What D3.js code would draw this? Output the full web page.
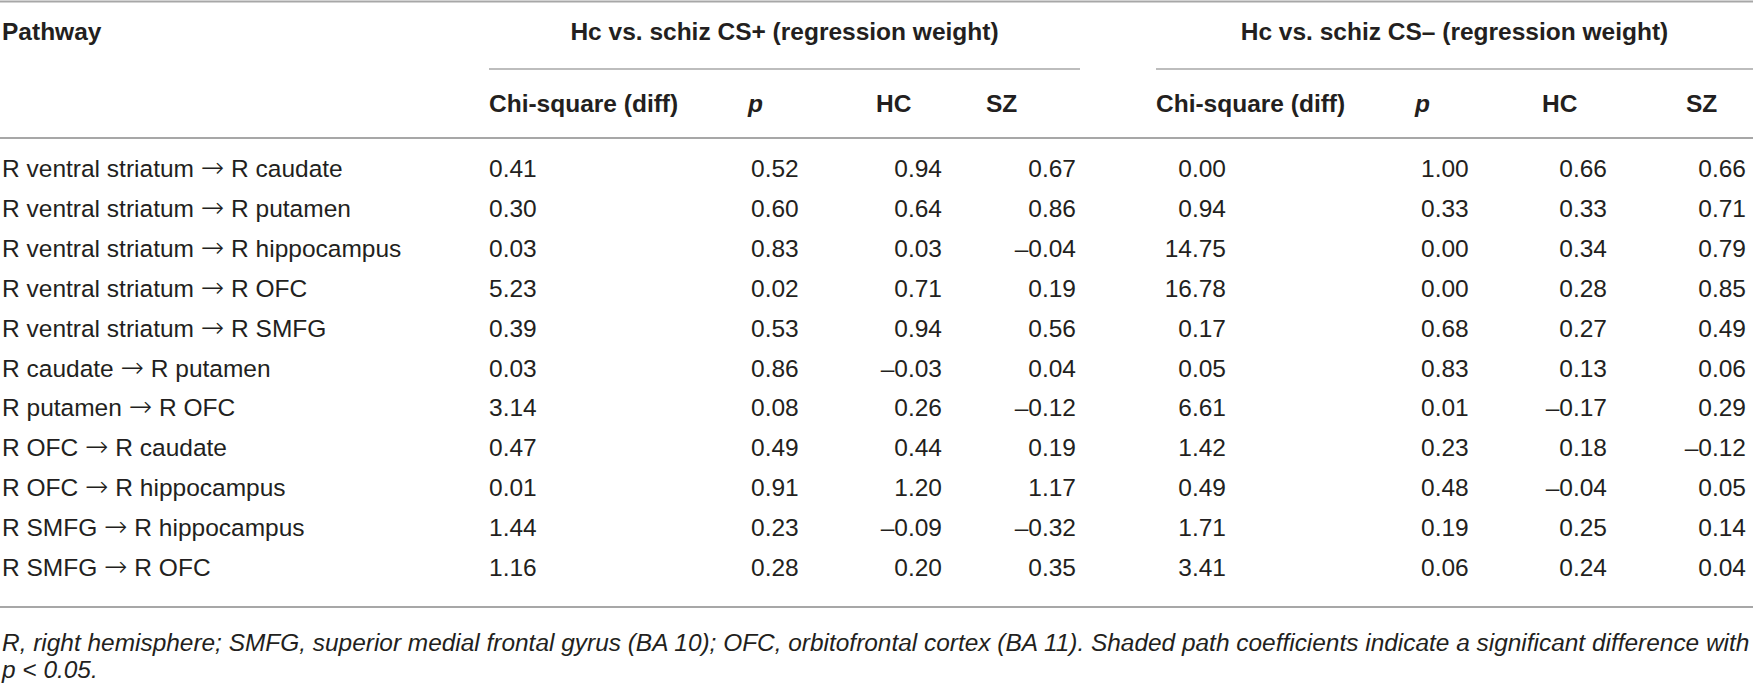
<!DOCTYPE html>
<html>
<head>
<meta charset="utf-8">
<script src="https://cdn.jsdelivr.net/npm/d3@7"></script>
<style>
  body { margin: 0; background: #fff; }
  svg { display: block; font-family: "Liberation Sans", Arial, sans-serif; }
  .head { font-weight: bold; font-size: 24.5px; fill: #231f20; }
  .cell { font-size: 24.5px; fill: #231f20; }
  .arrow { font-family: "DejaVu Sans", sans-serif; font-weight: 200; font-size: 28px; }
  .note { font-size: 22px; font-style: italic; fill: #231f20; }
  .rule { stroke: #a7a7a7; }
</style>
</head>
<body>
<div id="table"></div>
<script>
// table content
const pathways = [
  ["R ventral striatum", "R caudate"],
  ["R ventral striatum", "R putamen"],
  ["R ventral striatum", "R hippocampus"],
  ["R ventral striatum", "R OFC"],
  ["R ventral striatum", "R SMFG"],
  ["R caudate", "R putamen"],
  ["R putamen", "R OFC"],
  ["R OFC", "R caudate"],
  ["R OFC", "R hippocampus"],
  ["R SMFG", "R hippocampus"],
  ["R SMFG", "R OFC"]
];
const chiPlus  = [0.41, 0.30, 0.03, 5.23, 0.39, 0.03, 3.14, 0.47, 0.01, 1.44, 1.16];
const pPlus    = [0.52, 0.60, 0.83, 0.02, 0.53, 0.86, 0.08, 0.49, 0.91, 0.23, 0.28];
const hcPlus   = [0.94, 0.64, 0.03, 0.71, 0.94, -0.03, 0.26, 0.44, 1.20, -0.09, 0.20];
const szPlus   = [0.67, 0.86, -0.04, 0.19, 0.56, 0.04, -0.12, 0.19, 1.17, -0.32, 0.35];
const chiMinus = [0.00, 0.94, 14.75, 16.78, 0.17, 0.05, 6.61, 1.42, 0.49, 1.71, 3.41];
const pMinus   = [1.00, 0.33, 0.00, 0.00, 0.68, 0.83, 0.01, 0.23, 0.48, 0.19, 0.06];
const hcMinus  = [0.66, 0.33, 0.34, 0.28, 0.27, 0.13, -0.17, 0.18, -0.04, 0.25, 0.24];
const szMinus  = [0.66, 0.71, 0.79, 0.85, 0.49, 0.06, 0.29, -0.12, 0.05, 0.14, 0.04];

const groupTitles = ["Hc vs. schiz CS+ (regression weight)", "Hc vs. schiz CS\u2013 (regression weight)"];
const colTitles = ["Chi-square (diff)", "p", "HC", "SZ"];
const footnote = [
  "R, right hemisphere; SMFG, superior medial frontal gyrus (BA 10); OFC, orbitofrontal cortex (BA 11). Shaded path coefficients indicate a significant difference with",
  "p < 0.05."
];

const width = 1753, height = 686;

// en dash as minus, like the printed table
const fmt = d3.formatLocale({ decimal: ".", thousands: ",", grouping: [3], currency: ["", ""], minus: "\u2013" }).format(".2f");

// column layout: header x, value x and value anchor
const columns = [
  { title: 0, values: chiPlus,  hx: 489,  vx: 489,  anchor: "start", italic: false },
  { title: 1, values: pPlus,    hx: 748,  vx: 751,  anchor: "start", italic: true },
  { title: 2, values: hcPlus,   hx: 876,  vx: 942,  anchor: "end",   italic: false },
  { title: 3, values: szPlus,   hx: 986,  vx: 1076, anchor: "end",   italic: false },
  { title: 0, values: chiMinus, hx: 1156, vx: 1226, anchor: "end",   italic: false },
  { title: 1, values: pMinus,   hx: 1415, vx: 1421, anchor: "start", italic: true },
  { title: 2, values: hcMinus,  hx: 1542, vx: 1607, anchor: "end",   italic: false },
  { title: 3, values: szMinus,  hx: 1686, vx: 1746, anchor: "end",   italic: false }
];
const groups = [
  { title: groupTitles[0], x1: 489,  x2: 1080 },
  { title: groupTitles[1], x1: 1156, x2: 1753 }
];

const svg = d3.select("#table")
  .append("svg")
  .attr("width", width)
  .attr("height", height);

// row baselines
const y = d3.scalePoint()
  .domain(d3.range(pathways.length))
  .range([177, 576]);

// rules
[1.5, 138, 607].forEach(function (ry) {
  svg.append("line").attr("class", "rule")
    .attr("x1", 0).attr("x2", width).attr("y1", ry).attr("y2", ry)
    .attr("stroke-width", 2);
});

svg.selectAll("line.group")
  .data(groups)
  .enter()
  .append("line")
  .attr("class", "rule group")
  .attr("x1", d => d.x1).attr("x2", d => d.x2)
  .attr("y1", 69).attr("y2", 69)
  .attr("stroke-width", 1.5);

// headers
svg.append("text").attr("class", "head")
  .attr("x", 2).attr("y", 40)
  .text("Pathway");

svg.selectAll("text.group")
  .data(groups)
  .enter()
  .append("text")
  .attr("class", "head group")
  .attr("x", d => (d.x1 + d.x2) / 2)
  .attr("y", 40)
  .attr("text-anchor", "middle")
  .text(d => d.title);

svg.selectAll("text.colhead")
  .data(columns)
  .enter()
  .append("text")
  .attr("class", "head colhead")
  .attr("x", d => d.hx)
  .attr("y", 112)
  .style("font-style", d => d.italic ? "italic" : null)
  .text(d => colTitles[d.title]);

// body
const paths = svg.selectAll("text.path")
  .data(pathways)
  .enter()
  .append("text")
  .attr("class", "cell path")
  .attr("x", 2)
  .attr("y", (d, i) => y(i));
paths.append("tspan").text(d => d[0] + " ");
paths.append("tspan").attr("class", "arrow").text("\u2192");
paths.append("tspan").text(d => " " + d[1]);

columns.forEach(function (col) {
  svg.append("g")
    .selectAll("text")
    .data(col.values)
    .enter()
    .append("text")
    .attr("class", "cell")
    .attr("x", col.vx)
    .attr("y", (d, i) => y(i))
    .attr("text-anchor", col.anchor)
    .text(d => fmt(d));
});

// footnote, font sized so the first line fills the width
const notes = svg.selectAll("text.note")
  .data(footnote)
  .enter()
  .append("text")
  .attr("class", "note")
  .attr("x", 2)
  .attr("y", (d, i) => 651 + i * 27)
  .text(d => d);

const natural = notes.filter((d, i) => i === 0).node().getComputedTextLength();
notes.style("font-size", (22 * 1748 / natural) + "px");
</script>
</body>
</html>
